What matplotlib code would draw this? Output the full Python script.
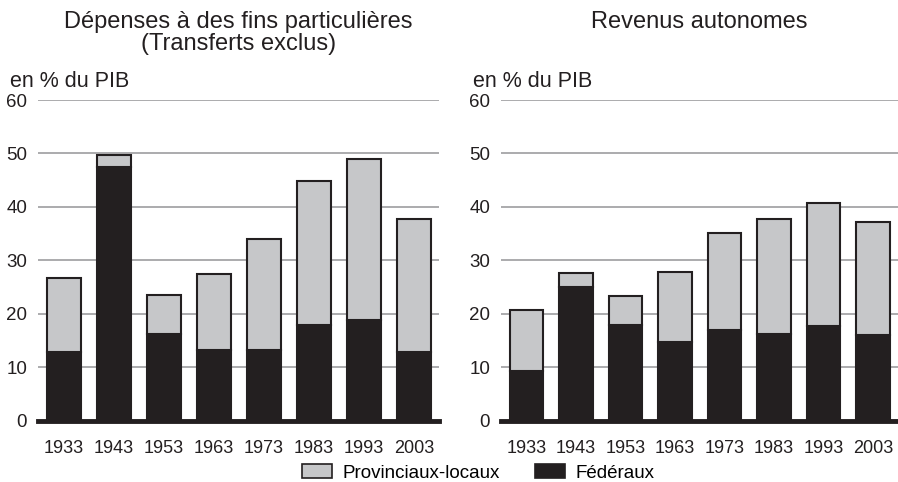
import matplotlib.pyplot as plt
import numpy as np
from matplotlib.patches import Patch

plt.rcParams['font.family'] = ['Liberation Sans', 'DejaVu Sans']

years = ['1933', '1943', '1953', '1963', '1973', '1983', '1993', '2003']

# Dépenses à des fins particulières (en % du PIB)
dep_total = [26.8, 49.7, 23.5, 27.4, 34.0, 44.9, 49.0, 37.7]
dep_fed = [12.8, 47.5, 16.3, 13.2, 13.2, 17.9, 18.8, 12.8]

# Revenus autonomes (en % du PIB)
rev_total = [20.7, 27.6, 23.3, 27.8, 35.1, 37.7, 40.7, 37.2]
rev_fed = [9.3, 25.1, 18.0, 14.7, 17.0, 16.3, 17.7, 16.0]

ylabel = 'en % du PIB'
legend_labels = ['Provinciaux-locaux', 'Fédéraux']

grey = '#c6c7c9'
black = '#231f20'

fig = plt.figure(figsize=(8.98, 4.82), dpi=100)
ax1 = fig.add_axes([0.0427, 0.127, 0.4466, 0.6655])
ax2 = fig.add_axes([0.5583, 0.127, 0.4417, 0.6655])

x = np.arange(len(years))
for ax, total, fed in [(ax1, dep_total, dep_fed), (ax2, rev_total, rev_fed)]:
    prov = np.array(total) - np.array(fed)
    ax.bar(x, fed, width=0.68, color=black, edgecolor=black, linewidth=1.5, zorder=3)
    ax.bar(x, prov, width=0.68, bottom=fed, color=grey, edgecolor=black, linewidth=1.5, zorder=3)
    ax.set_xlim(-0.51, 7.51)
    ax.set_ylim(0, 60)
    ax.set_yticks(range(0, 61, 10))
    ax.set_xticks(x)
    ax.set_xticklabels(years)
    for s in ax.spines.values():
        s.set_visible(False)
    ax.yaxis.grid(True, color='#9d9d9f', linewidth=1.2, zorder=0)
    ax.axhline(0, color=black, linewidth=3.5, zorder=4, clip_on=False)
    ax.tick_params(length=0, colors=black)
    ax.tick_params(axis='y', pad=8, labelsize=13.5)
    ax.tick_params(axis='x', pad=14, labelsize=13)

# "en % du PIB" above each axis
fig.text(10 / 898, 1 - 87 / 482, ylabel, fontsize=15.5, color=black, va='baseline', ha='left')
fig.text(473 / 898, 1 - 87 / 482, ylabel, fontsize=15.5, color=black, va='baseline', ha='left')

# titles
fig.text(238.5 / 898, 1 - 28 / 482, 'Dépenses à des fins particulières', fontsize=17,
         color=black, ha='center', va='baseline')
fig.text(238.5 / 898, 1 - 50 / 482, '(Transferts exclus)', fontsize=17,
         color=black, ha='center', va='baseline')
fig.text(699.5 / 898, 1 - 28 / 482, 'Revenus autonomes', fontsize=17,
         color=black, ha='center', va='baseline')

handles = [Patch(facecolor=grey, edgecolor=black, linewidth=1.2),
           Patch(facecolor=black, edgecolor=black, linewidth=1.2)]
fig.legend(handles, legend_labels, loc='center left', bbox_to_anchor=(302 / 898, 1 - 473 / 482),
           ncol=2, frameon=False, fontsize=13.5, handlelength=1.6, handleheight=0.7,
           columnspacing=1.9, handletextpad=0.55, borderpad=0, borderaxespad=0)

fig.savefig('out.png', dpi=100)
